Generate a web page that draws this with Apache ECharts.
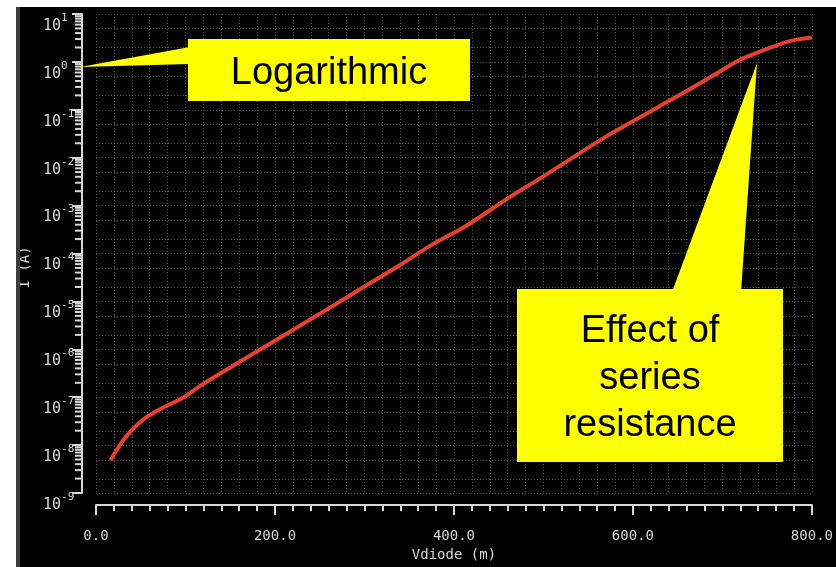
<!DOCTYPE html>
<html>
<head>
<meta charset="utf-8">
<script src="https://cdn.jsdelivr.net/npm/echarts@6/dist/echarts.min.js"></script>
<style>
html,body{margin:0;padding:0;background:#fff;}
#chart{width:836px;height:567px;}
</style>
</head>
<body>
<div id="chart"></div>
<script>
// Diode forward voltage (mV) and current (A)
const vdiode = [16, 23, 30, 38, 47, 56, 68, 79, 90, 101, 116, 150, 200, 250, 300, 339, 376, 413, 461, 500, 569, 617, 654, 692, 718, 737, 766, 781, 800];
const current = [4.8e-9, 7.8e-9, 1.23e-8, 1.86e-8, 2.75e-8, 3.8e-8, 5.13e-8, 6.61e-8, 8.32e-8, 1.08e-7, 1.7e-7, 4.17e-7, 1.51e-6, 5.5e-6, 2.04e-5, 5.62e-5, 1.55e-4, 3.72e-4, 1.45e-3, 4.07e-3, 2.69e-2, 8.71e-2, 0.214, 0.55, 1.07, 1.51, 2.4, 2.88, 3.24];

// Axis ticks
const xMin = 0, xMax = 800, xInterval = 200;
const yMin = 1e-9, yMax = 10;
const decadeExponents = [-9, -8, -7, -6, -5, -4, -3, -2, -1, 0];
const yMinorMultipliers = [2, 3, 4, 5, 6, 7, 8, 9];
const yGridMultipliers = [2, 5];

// Annotation texts
const noteLog = 'Logarithmic';
const noteSeries = 'Effect of\nseries\nresistance';

const axisColor = '#d8d8d8';
const gridColor = '#555555';
const monoFont = '"DejaVu Sans Mono", monospace';

const minorTickValues = [];
const minorGridValues = [];
decadeExponents.forEach(function (d) {
  yMinorMultipliers.forEach(function (m) { minorTickValues.push([0, m * Math.pow(10, d)]); });
  yGridMultipliers.forEach(function (m) { minorGridValues.push([0, m * Math.pow(10, d)]); });
});

const seriesData = vdiode.map(function (v, i) { return [v, current[i]]; });

const chart = echarts.init(document.getElementById('chart'), null, {renderer: 'canvas'});

const option = {
  backgroundColor: '#000000',
  animation: false,
  grid: {left: 96, right: 24, top: 14, bottom: 69, containLabel: false},
  xAxis: {
    type: 'value', min: xMin, max: xMax, interval: xInterval, offset: 12,
    axisLine: {show: true, onZero: false, lineStyle: {color: axisColor, width: 2}},
    axisTick: {show: true, length: 10, lineStyle: {color: axisColor, width: 2}},
    minorTick: {show: true, splitNumber: 10, length: 6, lineStyle: {color: axisColor, width: 2}},
    axisLabel: {color: axisColor, fontFamily: monoFont, fontSize: 14, margin: 24,
      formatter: function (v) { return v.toFixed(1); }},
    splitLine: {show: true, lineStyle: {color: gridColor, width: 1, type: [1, 2]}},
    minorSplitLine: {show: true, lineStyle: {color: gridColor, width: 1, type: [1, 2]}},
    name: 'Vdiode (m)', nameLocation: 'middle', nameGap: 43,
    nameTextStyle: {color: axisColor, fontFamily: monoFont, fontSize: 14}
  },
  yAxis: {
    type: 'log', logBase: 10, min: yMin, max: yMax, interval: 1, offset: 14,
    axisLine: {show: true, onZero: false, lineStyle: {color: axisColor, width: 2}},
    axisTick: {show: true, length: 10, lineStyle: {color: axisColor, width: 2}},
    axisLabel: {
      align: 'left', margin: 39, padding: [18, 0, 0, 0],
      formatter: function (v) { return '{b|10}{s|' + Math.round(Math.log10(v)) + '}'; },
      rich: {
        b: {fontFamily: monoFont, fontSize: 15, color: axisColor, lineHeight: 15, padding: [6, 0, 0, 0]},
        s: {fontFamily: monoFont, fontSize: 11, color: axisColor, lineHeight: 11, padding: [0, 0, 10, 0]}
      }
    },
    splitLine: {show: true, lineStyle: {color: gridColor, width: 1, type: [1, 2]}},
    name: 'I (A)', nameLocation: 'middle', nameGap: 48,
    nameTextStyle: {color: axisColor, fontFamily: monoFont, fontSize: 14, padding: [0, 28, 0, 0]}
  },
  series: [
    {
      type: 'custom', name: 'minorGrid', silent: true, clip: false, z: 1,
      data: minorGridValues,
      renderItem: function (params, api) {
        const v = api.value(1);
        const p1 = api.coord([xMin, v]);
        const p2 = api.coord([xMax, v]);
        return {type: 'line', shape: {x1: p1[0], y1: Math.round(p1[1]) + 0.5, x2: p2[0], y2: Math.round(p1[1]) + 0.5},
          style: {stroke: gridColor, lineWidth: 1, lineDash: [1, 2]}};
      }
    },
    {
      type: 'custom', name: 'minorTicks', silent: true, clip: false, z: 3,
      data: minorTickValues,
      renderItem: function (params, api) {
        const v = api.value(1);
        const p = api.coord([xMin, v]);
        const ax = p[0] - 14;
        return {type: 'line', shape: {x1: ax - 7, y1: p[1], x2: ax, y2: p[1]},
          style: {stroke: axisColor, lineWidth: 2}};
      }
    },
    {
      type: 'line', name: 'I', data: seriesData, showSymbol: false, smooth: 0.4, z: 4,
      lineStyle: {color: '#e8402f', width: 4}
    }
  ],
  graphic: {
    elements: [
      {type: 'rect', shape: {x: 0, y: 0, width: 836, height: 7}, style: {fill: '#ffffff'}, z: 50},
      {type: 'rect', shape: {x: 0, y: 0, width: 16, height: 567}, style: {fill: '#ffffff'}, z: 50},
      {type: 'rect', shape: {x: 16, y: 7, width: 4, height: 560}, style: {fill: '#3c3c3c'}, z: 50},
      {type: 'polygon', shape: {points: [[80, 67], [190, 47], [190, 64]]}, style: {fill: '#ffff00'}, z: 100},
      {type: 'rect', shape: {x: 188, y: 39, width: 282, height: 62}, style: {fill: '#ffff00'}, z: 100},
      {type: 'text', x: 329, y: 74, z: 101,
        style: {text: noteLog, fontSize: 38, fontFamily: '"Liberation Sans", Arial, sans-serif', fill: '#000',
          align: 'center', verticalAlign: 'middle', textAlign: 'center', textVerticalAlign: 'middle'}},
      {type: 'polygon', shape: {points: [[757, 63], [672, 292], [741, 292]]}, style: {fill: '#ffff00'}, z: 100},
      {type: 'rect', shape: {x: 517, y: 289, width: 266, height: 173}, style: {fill: '#ffff00'}, z: 100},
      {type: 'text', x: 650, y: 379, z: 101,
        style: {text: noteSeries, fontSize: 38, lineHeight: 47, fontFamily: '"Liberation Sans", Arial, sans-serif', fill: '#000',
          align: 'center', verticalAlign: 'middle', textAlign: 'center', textVerticalAlign: 'middle'}}
    ]
  }
};
chart.setOption(option);
</script>
</body>
</html>
